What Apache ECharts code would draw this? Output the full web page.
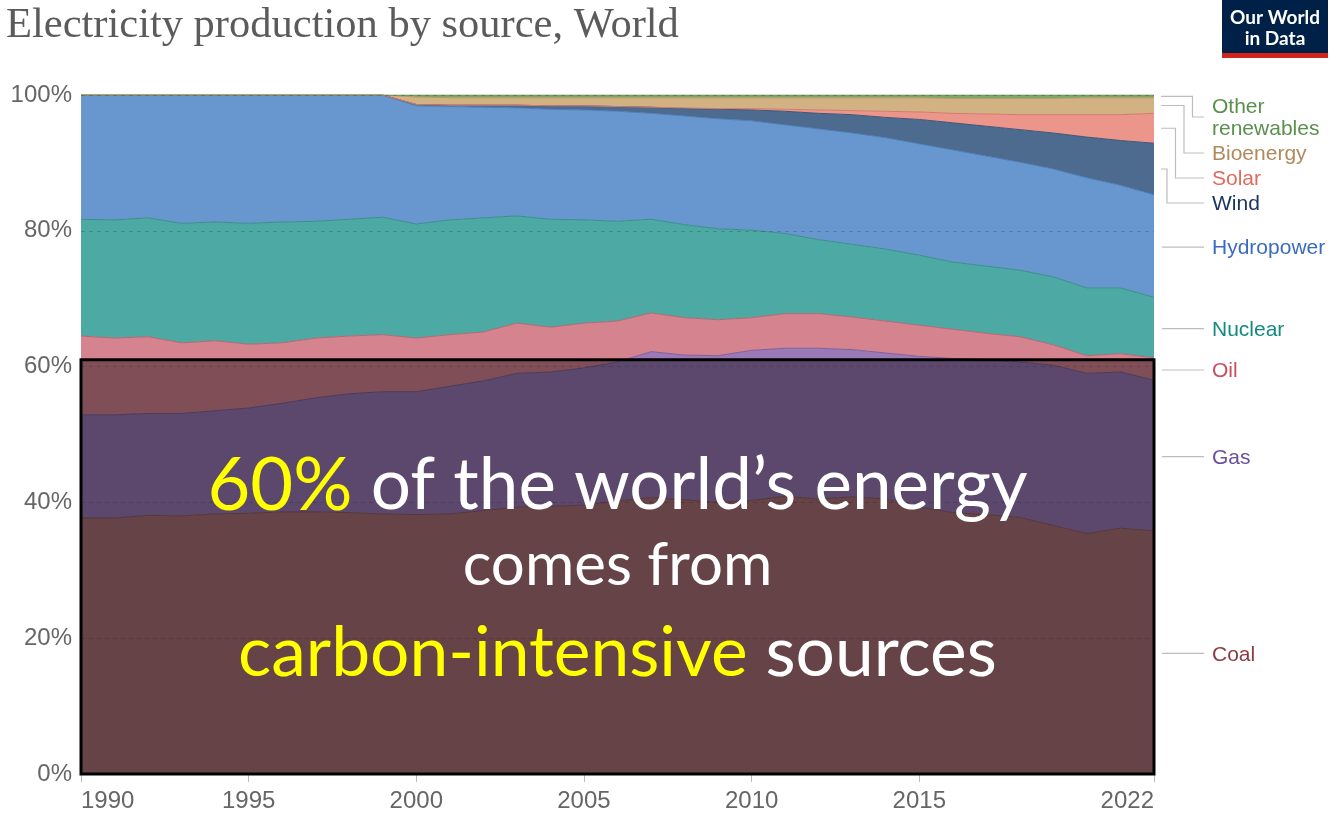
<!DOCTYPE html>
<html><head><meta charset="utf-8">
<script src="https://cdn.jsdelivr.net/npm/echarts@6.0.0/dist/echarts.min.js"></script>
<style>html,body{margin:0;padding:0;background:#fff;}#chart{width:1333px;height:814px;}</style>
</head><body><div id="chart"></div>
<script>
// ---------- DATA (share of electricity production, %) ----------
const years = ['1990','1991','1992','1993','1994','1995','1996','1997','1998','1999',
  '2000','2001','2002','2003','2004','2005','2006','2007','2008','2009',
  '2010','2011','2012','2013','2014','2015','2016','2017','2018','2019',
  '2020','2021','2022'];
const coal = [37.7,37.7,38.1,38.0,38.3,38.4,38.6,38.6,38.5,38.3, 38.2,38.3,38.8,39.3,39.4,39.6,40.2,40.7,40.4,40.0, 40.3,40.9,40.5,40.8,40.5,39.3,38.5,38.2,37.8,36.6, 35.4,36.2,35.8];
const gas = [15.2,15.2,15.0,15.1,15.2,15.5,16.0,16.8,17.5,18.0, 18.1,18.8,19.1,19.7,19.8,20.2,20.5,21.5,21.3,21.6, 22.1,21.8,22.2,21.7,21.5,22.2,22.7,22.8,22.9,23.6, 23.6,23.0,22.2];
const oil = [11.6,11.3,11.3,10.4,10.3,9.4,8.9,8.8,8.5,8.4, 7.9,7.6,7.2,7.4,6.6,6.6,6.0,5.7,5.5,5.3, 4.8,5.1,5.1,4.8,4.7,4.6,4.3,3.9,3.7,3.0, 2.6,2.7,3.3];
const nuclear = [17.2,17.4,17.5,17.6,17.5,17.8,17.8,17.2,17.2,17.3, 16.8,16.9,16.8,15.8,15.9,15.2,14.7,13.8,13.7,13.4, 12.9,11.8,10.9,10.7,10.6,10.3,9.9,9.9,9.8,10.0, 10.0,9.7,8.9];
const hydro = [18.3,18.4,18.1,18.9,18.7,18.9,18.7,18.6,18.3,18.0, 17.4,16.7,16.3,15.9,16.2,16.2,16.2,15.6,16.0,16.2, 16.1,16.0,16.3,16.4,16.4,16.4,16.5,16.2,15.9,15.9, 16.2,15.1,15.1];
const wind = [0,0,0,0,0,0,0,0,0,0, 0.2,0.2,0.3,0.4,0.5,0.6,0.7,0.9,1.1,1.4, 1.6,2.0,2.3,2.7,3.0,3.6,4.0,4.4,4.8,5.3, 6.0,6.6,7.6];
const solar = [0,0,0,0,0,0,0,0,0,0, 0,0,0,0,0,0,0,0,0.1,0.1, 0.2,0.3,0.5,0.6,0.9,1.1,1.4,1.8,2.2,2.7, 3.3,3.8,4.4];
const bioenergy = [0,0,0,0,0,0,0,0,0,0, 1.1,1.1,1.1,1.1,1.2,1.2,1.3,1.4,1.5,1.6, 1.6,1.7,1.8,1.9,2.0,2.1,2.2,2.3,2.4,2.4, 2.5,2.5,2.3];
const otherRenewables = [0,0,0,0,0,0,0,0,0,0, 0.3,0.4,0.4,0.4,0.4,0.4,0.4,0.4,0.4,0.4, 0.4,0.4,0.4,0.4,0.4,0.4,0.5,0.5,0.5,0.5, 0.4,0.4,0.4];
const xTickYears = ['1990','1995','2000','2005','2010','2015','2022'];
const yTicks = [0,20,40,60,80,100];
const overlayTop = 61; // % — top of highlighted "carbon-intensive" box
const seriesNames = ['Coal','Gas','Oil','Nuclear','Hydropower','Wind','Solar','Bioenergy','Other renewables'];

// ---------- STYLE ----------
const seriesValues = [coal,gas,oil,nuclear,hydro,wind,solar,bioenergy,otherRenewables];
const fills = ['#ab7075','#9a79b6','#d5838f','#4ca9a3','#6897cf','#4d6a8f','#ec958a','#d2b282','#79a86b'];
const edges = ['#8f5a60','#7d5f9c','#b86672','#3a8d8a','#4f7db8','#3d5678','#d27a70','#b99868','#5f9450'];
const labelColors = ['#8a3b45','#6c4f9a','#c84e60','#138a80','#3a6bbf','#1b3563','#e06b5d','#b08a5b','#5b8f4e'];
const axisFont = '"Liberation Sans", Arial, sans-serif';

const chart = echarts.init(document.getElementById('chart'), null, {renderer:'canvas'});

const series = seriesNames.map((n,i)=>({
  name:n, type:'line', stack:'total', data:seriesValues[i], symbol:'none', showSymbol:false,
  lineStyle:{width:1,color:edges[i]}, areaStyle:{color:fills[i],opacity:1}, z:2, silent:true
}));
series.push({
  name:'highlight', type:'line', data:[], silent:true,
  markArea:{ silent:true, z:10,
    itemStyle:{color:'rgba(0,0,0,0.4)', borderColor:'#000', borderWidth:3},
    label:{show:false},
    data:[[{xAxis:years[0], yAxis:0},{xAxis:years[years.length-1], yAxis:overlayTop}]] }
});

const showYear = (idx,val)=> xTickYears.indexOf(val) >= 0;

chart.setOption({
  animation:false,
  backgroundColor:'#fff',
  grid:{left:81,right:179,top:95,bottom:40,containLabel:false},
  xAxis:{type:'category', data:years, boundaryGap:false,
    axisLine:{show:true, lineStyle:{color:'#bbb'}},
    axisTick:{show:true, interval:showYear, length:8, lineStyle:{color:'#bbb'}},
    axisLabel:{interval:showYear, fontSize:24, color:'#666', fontFamily:axisFont, margin:15,
      alignMinLabel:'left', alignMaxLabel:'right'},
    splitLine:{show:false}},
  yAxis:{type:'value', min:0, max:100, interval:20, z:3,
    axisLine:{show:false}, axisTick:{show:false},
    axisLabel:{formatter:'{value}%', fontSize:24, color:'#666', fontFamily:axisFont, margin:9},
    splitLine:{show:true, lineStyle:{color:'rgba(0,0,0,0.16)', type:[4,4], width:1}}},
  series:series
});

// ---------- labels on the right, placed through the chart's scales ----------
const lastVals = seriesValues.map(v=>v[v.length-1]);
let cum = 0;
const mids = lastVals.map(v=>{const m = cum + v/2; cum += v; return m;});
const xEnd = chart.convertToPixel({xAxisIndex:0}, years[years.length-1]);
const yTop = chart.convertToPixel({yAxisIndex:0}, 100);
const LH = 22, GAP = 3;
const items = seriesNames.map((n,i)=>({
  lines: n==='Other renewables' ? ['Other','renewables'] : [n],
  desired: chart.convertToPixel({yAxisIndex:0}, mids[i]),
  color: labelColors[i]
})).reverse();
let prevBottom = yTop - 1;
items.forEach(it=>{
  const h = it.lines.length*LH;
  it.y = Math.max(it.desired, prevBottom + h/2);
  prevBottom = it.y + h/2 + GAP;
});
const labelX = xEnd + 58;
const graphics = [];
const shifted = items.filter(it=>Math.abs(it.y-it.desired)>1).reverse(); // bottom first
items.forEach(it=>{
  const k = shifted.indexOf(it);
  let pts;
  if (k >= 0) {
    const ex = xEnd + 13 + k*8.5;
    pts = [[xEnd+7, it.desired],[ex, it.desired],[ex, it.y+1],[labelX-8, it.y+1]];
  } else {
    pts = [[xEnd+8, it.y+1],[labelX-8, it.y+1]];
  }
  graphics.push({type:'polyline', shape:{points:pts}, style:{stroke:'#bdbdbd', lineWidth:1.2, fill:null}, z:20, silent:true});
  graphics.push({type:'text', x:labelX, y:it.y+2.5, z:20, silent:true,
    style:{text:it.lines.join('\n'), fill:it.color, font:'21px "Liberation Sans", Arial, sans-serif',
      lineHeight:LH, verticalAlign:'middle', align:'left'}});
});

// title
graphics.push({type:'text', x:6, y:26, z:20, silent:true,
  style:{text:'Electricity production by source, World', fill:'#5b5b5b',
    font:'42.5px "Liberation Serif", "DejaVu Serif", serif', verticalAlign:'middle', align:'left'}});
// logo
graphics.push({type:'rect', shape:{x:1222,y:0,width:106,height:53}, style:{fill:'#002147'}, z:20, silent:true});
graphics.push({type:'rect', shape:{x:1222,y:53,width:106,height:5}, style:{fill:'#ce261e'}, z:20, silent:true});
graphics.push({type:'text', x:1275, y:28, z:21, silent:true,
  style:{text:'Our World\nin Data', fill:'#fff', font:'bold 19px Lato, "Liberation Sans", sans-serif', lineHeight:21, align:'center', verticalAlign:'middle'}});

// overlay message
const cx = (chart.convertToPixel({xAxisIndex:0}, years[0]) + xEnd)/2;
const msgFont = 'Lato, "Open Sans", sans-serif';
graphics.push({type:'text', x:cx, y:486, z:30, silent:true,
  style:{text:'{y|60%}{w| of the world\u2019s energy}', align:'center', verticalAlign:'middle',
    rich:{y:{fill:'#ffff00', fontSize:74, fontFamily:msgFont}, w:{fill:'#ffffff', fontSize:71, fontFamily:msgFont}}}});
graphics.push({type:'text', x:cx, y:566, z:30, silent:true,
  style:{text:'comes from', fill:'#fff', font:'60px '+msgFont, align:'center', verticalAlign:'middle'}});
graphics.push({type:'text', x:cx, y:654, z:30, silent:true,
  style:{text:'{y|carbon-intensive}{w| sources}', align:'center', verticalAlign:'middle',
    rich:{y:{fill:'#ffff00', fontSize:69.5, fontFamily:msgFont}, w:{fill:'#ffffff', fontSize:69.5, fontFamily:msgFont}}}});

chart.setOption({graphic:graphics});
</script></body></html>
